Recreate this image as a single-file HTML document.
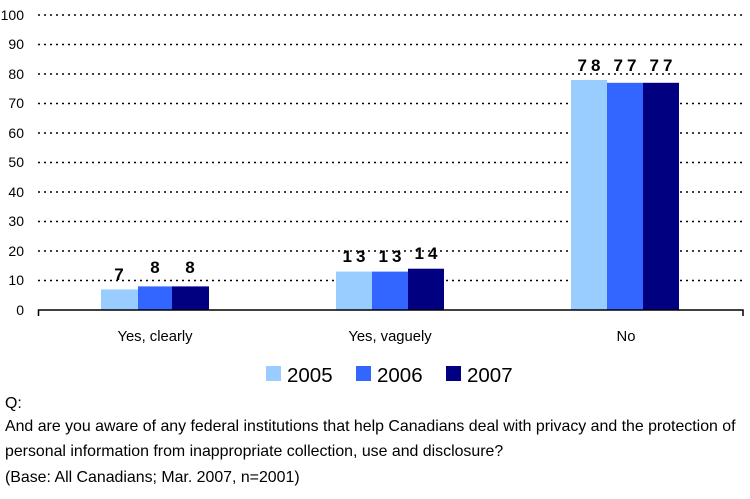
<!DOCTYPE html>
<html><head><style>body{margin:0;background:#fff}svg text{font-family:"Liberation Sans",Arial,sans-serif}</style></head><body>
<svg width="750" height="494" xmlns="http://www.w3.org/2000/svg">
<g stroke="#000" stroke-width="1.5" stroke-dasharray="2,4">
<line x1="38" x2="743" y1="15" y2="15"/><line x1="38" x2="743" y1="44.5" y2="44.5"/><line x1="38" x2="743" y1="74" y2="74"/><line x1="38" x2="743" y1="103.5" y2="103.5"/><line x1="38" x2="743" y1="133" y2="133"/><line x1="38" x2="743" y1="162.5" y2="162.5"/><line x1="38" x2="743" y1="192" y2="192"/><line x1="38" x2="743" y1="221.5" y2="221.5"/><line x1="38" x2="743" y1="251" y2="251"/><line x1="38" x2="743" y1="280.5" y2="280.5"/>
</g>
<g font-size="14" fill="#000" text-anchor="end">
<text x="24" y="20">100</text><text x="24" y="49">90</text><text x="24" y="79">80</text><text x="24" y="108">70</text><text x="24" y="138">60</text><text x="24" y="167">50</text><text x="24" y="197">40</text><text x="24" y="226">30</text><text x="24" y="256">20</text><text x="24" y="285">10</text><text x="24" y="315">0</text>
</g>
<rect x="101" y="289.4" width="37" height="20.6" fill="#99ccff"/><rect x="138" y="286.4" width="34" height="23.6" fill="#3366ff"/><rect x="172" y="286.4" width="37" height="23.6" fill="#000080"/>
<rect x="336" y="271.6" width="36" height="38.4" fill="#99ccff"/><rect x="372" y="271.6" width="36" height="38.4" fill="#3366ff"/><rect x="408" y="268.7" width="36" height="41.3" fill="#000080"/>
<rect x="571" y="80" width="36" height="230" fill="#99ccff"/><rect x="607" y="82.8" width="36" height="227.2" fill="#3366ff"/><rect x="643" y="82.8" width="36" height="227.2" fill="#000080"/>
<path d="M38.5 316V310H743V316" stroke="#000" stroke-width="1.5" fill="none"/>
<g font-size="17" font-weight="bold" text-anchor="middle" letter-spacing="4">
<text x="121" y="280">7</text><text x="157" y="273">8</text><text x="192" y="273">8</text>
<text x="356" y="262">13</text><text x="392" y="262">13</text><text x="428" y="259">14</text>
<text x="591" y="71">78</text><text x="627" y="71">77</text><text x="663" y="71">77</text>
</g>
<g font-size="14.8" text-anchor="middle"><text x="155" y="341">Yes, clearly</text><text x="390" y="341">Yes, vaguely</text><text x="626" y="341">No</text></g>
<rect x="266" y="366" width="15" height="15" fill="#99ccff"/><rect x="356" y="366" width="15" height="15" fill="#3366ff"/><rect x="446" y="366" width="15" height="15" fill="#000080"/>
<g font-size="20.5"><text x="287" y="382">2005</text><text x="377" y="382">2006</text><text x="467" y="382">2007</text></g>
<g font-size="15.9"><text x="5" y="408">Q:</text><text x="5" y="431">And are you aware of any federal institutions that help Canadians deal with privacy and the protection of</text><text x="5" y="456">personal information from inappropriate collection, use and disclosure?</text><text x="5" y="482">(Base: All Canadians; Mar. 2007, n=2001)</text></g>
</svg></body></html>
